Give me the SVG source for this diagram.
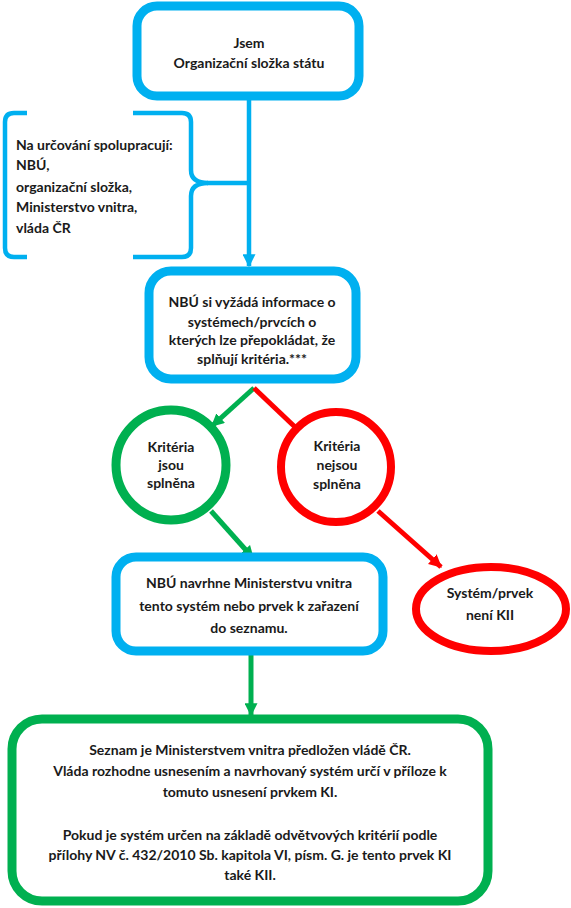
<svg xmlns="http://www.w3.org/2000/svg" width="571" height="908" viewBox="0 0 571 908">
<defs>
<style>
text{font-family:Lato,"Liberation Sans",sans-serif;font-weight:bold;font-size:14px;fill:#1a1a1a}
.c{text-anchor:middle}
.blue{fill:#fff;stroke:#00B0F0;stroke-width:9}
.green{fill:#fff;stroke:#00B050;stroke-width:9}
.red{fill:#fff;stroke:#FF0000;stroke-width:8}
.lb{fill:none;stroke:#00B0F0;stroke-width:4.5}
.lg{fill:none;stroke:#00B050;stroke-width:5}
.lr{fill:none;stroke:#FF0000;stroke-width:5}
</style>
<marker id="ab" viewBox="0 0 10 10" refX="9" refY="5" markerUnits="userSpaceOnUse" markerWidth="13" markerHeight="13" orient="auto"><path d="M0,0 L10,5 L0,10 z" fill="#00B0F0"/></marker>
<marker id="ag" viewBox="0 0 10 10" refX="9" refY="5" markerUnits="userSpaceOnUse" markerWidth="13" markerHeight="13" orient="auto"><path d="M0,0 L10,5 L0,10 z" fill="#00B050"/></marker>
<marker id="ar" viewBox="0 0 10 10" refX="9" refY="5" markerUnits="userSpaceOnUse" markerWidth="13" markerHeight="13" orient="auto"><path d="M0,0 L10,5 L0,10 z" fill="#FF0000"/></marker>
</defs>
<rect width="571" height="908" fill="#fff"/>
<g id="connectors">
<line class="lb" x1="249" y1="100" x2="249" y2="266" marker-end="url(#ab)"/>
<line class="lb" x1="207" y1="183" x2="249" y2="183"/>
<line class="lg" x1="254" y1="388" x2="212" y2="426" marker-end="url(#ag)"/>
<line class="lr" x1="254" y1="388" x2="295" y2="427"/>
<line class="lr" x1="378" y1="511" x2="441" y2="567" marker-end="url(#ar)"/>
<line class="lg" x1="211" y1="511" x2="253" y2="558" marker-end="url(#ag)"/>
<line class="lg" x1="251" y1="655" x2="251" y2="715" marker-end="url(#ag)"/>
</g>
<g id="n1">
<rect class="blue" x="137" y="6" width="222" height="90" rx="20"/>
<text class="c" x="249" y="48">Jsem</text>
<text class="c" x="249" y="68">Organizační složka státu</text>
</g>
<g id="n-bracket">
<path class="lb" d="M27 113 H14 Q5 113 5 122 V248 Q5 257 14 257 H27"/>
<path class="lb" d="M133 113 H182 Q191 113 191 122 V170 Q191 183 208 183 Q191 183 191 196 V248 Q191 257 182 257 H133"/>
<text x="16" y="150">Na určování spolupracují:</text>
<text x="16" y="170">NBÚ,</text>
<text x="16" y="192">organizační složka,</text>
<text x="16" y="212">Ministerstvo vnitra,</text>
<text x="16" y="233">vláda ČR</text>
</g>
<g id="n2">
<rect class="blue" x="149" y="271" width="207" height="108" rx="22"/>
<text class="c" x="252" y="307">NBÚ si vyžádá informace o</text>
<text class="c" x="252" y="327">systémech/prvcích o</text>
<text class="c" x="252" y="345">kterých lze přepokládat, že</text>
<text class="c" x="252" y="364">splňují kritéria.***</text>
</g>
<g id="n3">
<circle class="green" cx="171" cy="465" r="55"/>
<text class="c" x="171" y="452">Kritéria</text>
<text class="c" x="171" y="470">jsou</text>
<text class="c" x="171" y="488">splněna</text>
</g>
<g id="n4">
<circle class="red" cx="336" cy="467" r="55"/>
<text class="c" x="337" y="451">Kritéria</text>
<text class="c" x="337" y="470">nejsou</text>
<text class="c" x="337" y="489">splněna</text>
</g>
<g id="n5">
<ellipse class="red" cx="491" cy="609" rx="75" ry="42"/>
<text class="c" x="490" y="598">Systém/prvek</text>
<text class="c" x="490" y="620">není KII</text>
</g>
<g id="n6">
<rect class="blue" x="116" y="557" width="267" height="94" rx="20"/>
<text class="c" x="249" y="588">NBÚ navrhne Ministerstvu vnitra</text>
<text class="c" x="249" y="611">tento systém nebo prvek k zařazení</text>
<text class="c" x="249" y="633">do seznamu.</text>
</g>
<g id="n7">
<rect class="green" x="12" y="719" width="476" height="182" rx="30"/>
<text class="c" x="250" y="755">Seznam je Ministerstvem vnitra předložen vládě ČR.</text>
<text class="c" x="250" y="776">Vláda rozhodne usnesením a navrhovaný systém určí v příloze k</text>
<text class="c" x="250" y="797">tomuto usnesení prvkem KI.</text>
<text class="c" x="250" y="840">Pokud je systém určen na základě odvětvových kritérií podle</text>
<text class="c" x="250" y="860">přílohy NV č. 432/2010 Sb. kapitola VI, písm. G. je tento prvek KI</text>
<text class="c" x="250" y="880">také KII.</text>
</g>
</svg>
